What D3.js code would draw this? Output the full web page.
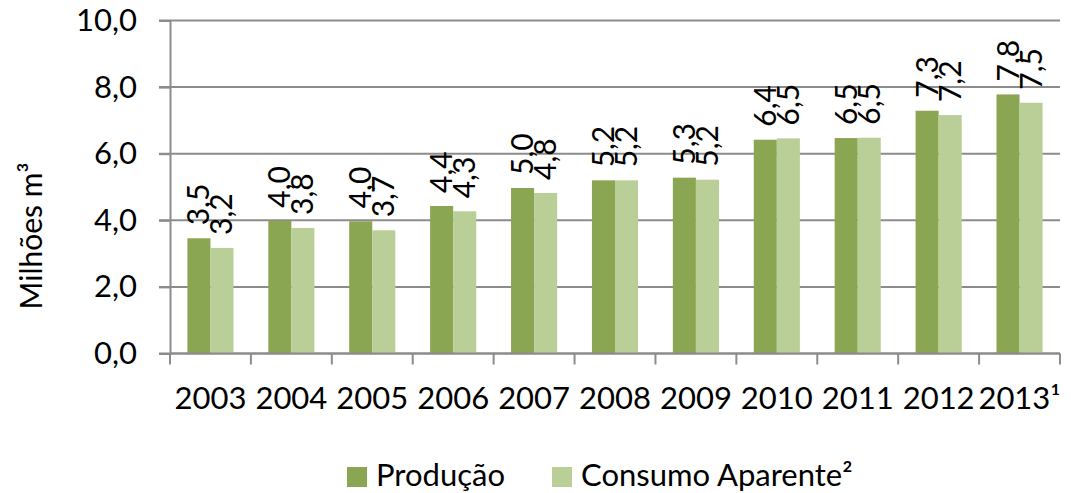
<!DOCTYPE html>
<html><head><meta charset="utf-8">
<script src="https://cdn.jsdelivr.net/npm/d3@7"></script>
<style>
html,body{margin:0;padding:0;background:#fff;}
svg text{font-family:Lato,"Open Sans",sans-serif;fill:#000;}
</style></head>
<body><svg id="c" width="1071" height="493"></svg>
<script>
const categories = ["2003","2004","2005","2006","2007","2008","2009","2010","2011","2012","2013¹"];
const producao = [3.46, 3.99, 3.97, 4.43, 4.97, 5.2, 5.28, 6.42, 6.47, 7.29, 7.78];
const consumo = [3.17, 3.77, 3.70, 4.27, 4.82, 5.2, 5.22, 6.46, 6.48, 7.16, 7.53];
const seriesNames = ["Produção", "Consumo Aparente²"];
const yTicks = [0, 2, 4, 6, 8, 10];
const colors = ["#8ba652", "#b9cf97"];

const svg = d3.select("#c");
const FONT = "Lato";
const L = 170, R = 1060, T = 20.5, B = 353.5;
const x = d3.scaleBand().domain(categories).range([L, R]);
const y = d3.scaleLinear().domain([0, 10]).range([B, T]);
const fmt = v => v.toFixed(1).replace(".", ",");
const grid = "#8c8c8c";

// gridlines
svg.append("g").selectAll("line").data(yTicks).join("line")
  .attr("x1", L - 11).attr("x2", R)
  .attr("y1", d => y(d)).attr("y2", d => y(d))
  .attr("stroke", grid).attr("stroke-width", 2);

// y axis
const ya = svg.append("g").attr("transform", `translate(${L},0)`)
  .call(d3.axisLeft(y).tickValues(yTicks).tickFormat(fmt).tickSize(11).tickPadding(22));
ya.select(".domain").attr("stroke", grid).attr("stroke-width", 2);
ya.selectAll(".tick line").attr("stroke", grid).attr("stroke-width", 2);
ya.selectAll("text").attr("font-size", 31).attr("font-family", FONT).attr("fill", "#000");

// bars
const bw = x.bandwidth() * 0.285;
const off = (x.bandwidth() - 2 * bw) / 2;
const series = [producao, consumo];
series.forEach((vals, si) => {
  const g = svg.append("g");
  g.selectAll("rect").data(vals).join("rect")
    .attr("x", (d, i) => x(categories[i]) + off + si * bw)
    .attr("width", bw)
    .attr("y", d => y(d))
    .attr("height", d => B - y(d))
    .attr("fill", colors[si]);
});

// x axis
const xa = svg.append("g").attr("transform", `translate(0,${B})`)
  .call(d3.axisBottom(x).tickSize(0).tickPadding(33));
xa.select(".domain").remove();
xa.selectAll("text").attr("font-size", 31).attr("font-family", FONT).attr("fill", "#000");
svg.append("line").attr("x1", L).attr("x2", R).attr("y1", B).attr("y2", B)
  .attr("stroke", grid).attr("stroke-width", 2);
svg.append("g").selectAll("line").data(categories.concat(["end"])).join("line")
  .attr("x1", (d, i) => L + i * x.step()).attr("x2", (d, i) => L + i * x.step())
  .attr("y1", B).attr("y2", B + 11)
  .attr("stroke", grid).attr("stroke-width", 2);

// data labels
series.forEach((vals, si) => {
  svg.append("g").selectAll("text").data(vals).join("text")
    .attr("transform", (d, i) => {
      const cx = x(categories[i]) + off + si * bw + bw / 2;
      return `translate(${cx},${y(d) - 13}) rotate(-90)`;
    })
    .attr("dy", "0.35em")
    .attr("text-anchor", "start")
    .attr("font-size", 30)
    .text(d => fmt(d));
});

// y title
svg.append("text")
  .attr("transform", "translate(42,236) rotate(-90)")
  .attr("text-anchor", "middle")
  .attr("font-size", 30)
  .text("Milhões m³");

// legend
const legX = [347, 552];
seriesNames.forEach((n, i) => {
  svg.append("rect").attr("x", legX[i]).attr("y", 467).attr("width", 20).attr("height", 20).attr("fill", colors[i]);
  svg.append("text").attr("x", legX[i] + 29).attr("y", 486).attr("font-size", 31).text(n);
});
</script></body></html>
